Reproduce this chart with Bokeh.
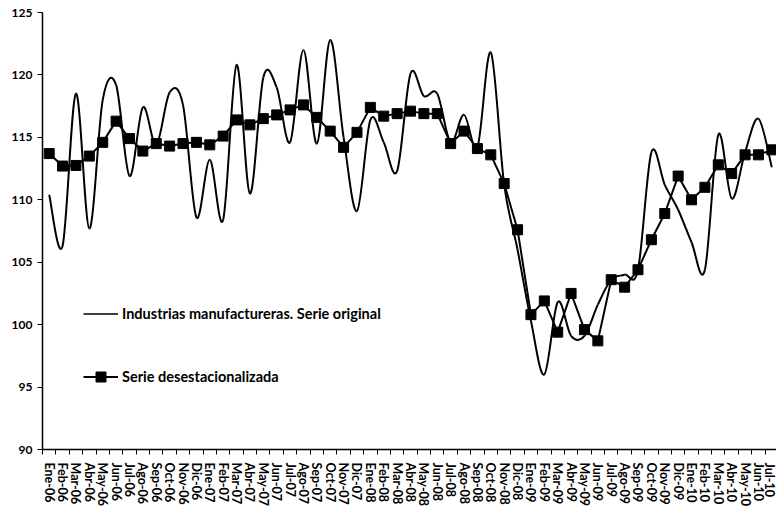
from bokeh.plotting import figure
from bokeh.models import ColumnDataSource, FixedTicker, Legend, LegendItem, Range1d
from bokeh.embed import file_html
from bokeh.resources import INLINE

months = ["Ene-06", "Feb-06", "Mar-06", "Abr-06", "May-06", "Jun-06", "Jul-06", "Ago-06", "Sep-06", "Oct-06", "Nov-06", "Dic-06",
          "Ene-07", "Feb-07", "Mar-07", "Abr-07", "May-07", "Jun-07", "Jul-07", "Ago-07", "Sep-07", "Oct-07", "Nov-07", "Dic-07",
          "Ene-08", "Feb-08", "Mar-08", "Abr-08", "May-08", "Jun-08", "Jul-08", "Ago-08", "Sep-08", "Oct-08", "Nov-08", "Dic-08",
          "Ene-09", "Feb-09", "Mar-09", "Abr-09", "May-09", "Jun-09", "Jul-09", "Ago-09", "Sep-09", "Oct-09", "Nov-09", "Dic-09",
          "Ene-10", "Feb-10", "Mar-10", "Abr-10", "May-10", "Jun-10", "Jul-10"]

original = [110.4, 106.3, 118.5, 107.7, 118.0, 119.2, 111.9, 117.4, 114.4, 118.6, 117.6, 108.6,
            113.2, 108.4, 120.8, 110.5, 119.8, 119.0, 114.6, 122.0, 114.5, 122.8, 115.0, 109.1,
            116.4, 114.6, 112.3, 120.1, 118.3, 118.5, 114.6, 116.8, 114.2, 121.8, 111.2, 106.0,
            100.3, 96.0, 101.8, 99.1, 99.1, 101.6, 103.6, 104.0, 104.4, 113.8, 111.2, 109.2,
            106.6, 104.4, 115.2, 110.1, 113.8, 116.5, 112.6]

desestacionalizada = [113.7, 112.7, 112.75, 113.5, 114.6, 116.3, 114.9, 113.9, 114.5, 114.3, 114.5, 114.6,
                      114.4, 115.1, 116.4, 116.0, 116.5, 116.8, 117.2, 117.6, 116.6, 115.5, 114.2, 115.4,
                      117.4, 116.7, 116.9, 117.1, 116.9, 116.9, 114.5, 115.5, 114.1, 113.6, 111.3, 107.6,
                      100.8, 101.9, 99.4, 102.5, 99.6, 98.7, 103.6, 103.0, 104.4, 106.8, 108.9, 111.9,
                      110.0, 111.0, 112.8, 112.1, 113.6, 113.6, 114.0]

y_ticks = [90, 95, 100, 105, 110, 115, 120, 125]

FONT = "Lato"

n = len(months)
xs = list(range(n))

# Smoothed (Catmull-Rom style Bezier) segments for the original series
x0s, y0s, x1s, y1s, cx0s, cy0s, cx1s, cy1s = [], [], [], [], [], [], [], []
for i in range(n - 1):
    a = max(i - 1, 0)
    d = min(i + 2, n - 1)
    xa_, ya_ = xs[a], original[a]
    xb, yb = xs[i], original[i]
    xc, yc = xs[i + 1], original[i + 1]
    xd, yd = xs[d], original[d]
    x0s.append(xb); y0s.append(yb)
    x1s.append(xc); y1s.append(yc)
    cx0s.append(xb + (xc - xa_) / 6.0); cy0s.append(yb + (yc - ya_) / 6.0)
    cx1s.append(xc - (xd - xb) / 6.0); cy1s.append(yc - (yd - yb) / 6.0)

bez_src = ColumnDataSource(dict(x0=x0s, y0=y0s, x1=x1s, y1=y1s, cx0=cx0s, cy0=cy0s, cx1=cx1s, cy1=cy1s))
des_src = ColumnDataSource(dict(x=xs, y=desestacionalizada))

p = figure(width=776, height=511, output_backend="svg", toolbar_location=None,
           x_range=Range1d(-0.5, 54.35), y_range=Range1d(90, 125),
           min_border_left=42, min_border_right=0, min_border_top=12, min_border_bottom=62)

p.outline_line_color = None
p.xgrid.visible = False
p.ygrid.visible = False
p.background_fill_color = "white"
p.border_fill_color = "white"

p.bezier(x0="x0", y0="y0", x1="x1", y1="y1", cx0="cx0", cy0="cy0", cx1="cx1", cy1="cy1",
         source=bez_src, line_color="black", line_width=2)
# single-point line: invisible on the plot, used only as the legend sample
leg_orig = p.line(x=[xs[0]], y=[original[0]], line_color="black", line_width=1.6)

l_des = p.line(x="x", y="y", source=des_src, line_color="black", line_width=2)
s_des = p.scatter(x="x", y="y", source=des_src, marker="square", size=10,
                  fill_color="black", line_color="black")

# Axes
xa = p.xaxis[0]
xa.ticker = FixedTicker(ticks=xs, minor_ticks=[i - 0.5 for i in range(n + 1)])
xa.major_label_overrides = {i: m for i, m in enumerate(months)}
xa.major_label_orientation = "vertical"
xa.major_tick_out = 0
xa.major_tick_in = 0
xa.minor_tick_out = 5
xa.minor_tick_in = 0
xa.minor_tick_line_color = "black"
xa.major_label_standoff = 8
xa.major_label_text_font = FONT
xa.major_label_text_font_style = "bold"
xa.major_label_text_font_size = "12.5px"
xa.major_label_text_color = "black"
xa.axis_line_color = "black"
xa.axis_line_width = 1.5

ya = p.yaxis[0]
ya.ticker = FixedTicker(ticks=y_ticks, minor_ticks=[])
ya.major_tick_out = 5
ya.major_tick_in = 0
ya.major_tick_line_color = "black"
ya.major_label_standoff = 5
ya.major_label_text_font = FONT
ya.major_label_text_font_style = "bold"
ya.major_label_text_font_size = "12px"
ya.major_label_text_color = "black"
ya.axis_line_color = "black"
ya.axis_line_width = 1.5

legend = Legend(items=[
    LegendItem(label="Industrias manufactureras. Serie original", renderers=[leg_orig]),
    LegendItem(label="Serie desestacionalizada", renderers=[l_des, s_des]),
], location=(41, 60), orientation="vertical",
    glyph_width=35, glyph_height=25, label_height=25, spacing=38,
    padding=0, margin=0, label_standoff=4,
    border_line_alpha=0, background_fill_alpha=0,
    label_text_font=FONT, label_text_font_style="bold", label_text_font_size="14.5px",
    label_text_color="black")
p.add_layout(legend, "center")

open("out.html", "w").write(file_html(p, INLINE))
